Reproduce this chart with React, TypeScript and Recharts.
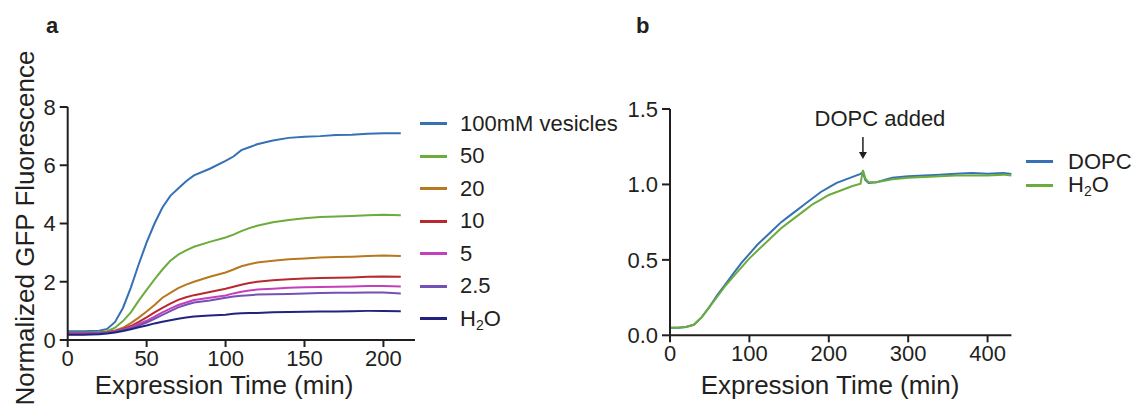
import React from "react";
import { LineChart, Line, XAxis, YAxis, Legend, ReferenceDot } from "recharts";

const FONT = '"Liberation Sans", Arial, sans-serif';
const INK = "#231f20";

// panel a: expression time course for each vesicle concentration
const timeA = [0, 10, 20, 25, 30, 35, 40, 45, 50, 55, 60, 65, 70, 75, 80, 90, 100, 105, 110, 115, 120, 130, 140, 150, 160, 170, 180, 190, 200, 211];
const ves100 = [0.3, 0.3, 0.32, 0.38, 0.62, 1.1, 1.8, 2.6, 3.35, 4.0, 4.55, 4.95, 5.2, 5.45, 5.65, 5.88, 6.15, 6.3, 6.52, 6.62, 6.72, 6.85, 6.94, 6.98, 7.0, 7.04, 7.05, 7.08, 7.1, 7.1];
const ves50 = [0.25, 0.25, 0.27, 0.3, 0.42, 0.65, 0.95, 1.35, 1.72, 2.08, 2.42, 2.72, 2.93, 3.08, 3.2, 3.37, 3.52, 3.62, 3.74, 3.84, 3.92, 4.04, 4.12, 4.18, 4.22, 4.24, 4.26, 4.28, 4.3, 4.28];
const ves20 = [0.22, 0.22, 0.25, 0.28, 0.33, 0.42, 0.58, 0.77, 0.98, 1.2, 1.45, 1.62, 1.78, 1.9, 2.0, 2.17, 2.32, 2.42, 2.53, 2.6, 2.66, 2.72, 2.77, 2.8, 2.83, 2.85, 2.86, 2.88, 2.9, 2.88];
const ves10 = [0.22, 0.22, 0.24, 0.26, 0.3, 0.38, 0.48, 0.62, 0.78, 0.95, 1.1, 1.25, 1.38, 1.47, 1.54, 1.65, 1.76, 1.83, 1.9, 1.96, 2.0, 2.05, 2.09, 2.11, 2.13, 2.14, 2.15, 2.17, 2.18, 2.17];
const ves5 = [0.22, 0.22, 0.24, 0.26, 0.3, 0.36, 0.44, 0.55, 0.66, 0.8, 0.95, 1.08, 1.2, 1.29, 1.37, 1.45, 1.53, 1.6, 1.66, 1.7, 1.73, 1.76, 1.79, 1.81, 1.82, 1.83, 1.84, 1.85, 1.85, 1.84];
const ves2_5 = [0.2, 0.2, 0.23, 0.25, 0.28, 0.34, 0.4, 0.5, 0.6, 0.73, 0.86, 0.99, 1.12, 1.21, 1.29, 1.36, 1.45, 1.49, 1.52, 1.54, 1.56, 1.57, 1.58, 1.6, 1.61, 1.62, 1.62, 1.63, 1.63, 1.6];
const waterA = [0.18, 0.18, 0.2, 0.22, 0.26, 0.31, 0.37, 0.44, 0.5, 0.57, 0.63, 0.68, 0.73, 0.77, 0.81, 0.84, 0.87, 0.9, 0.92, 0.93, 0.93, 0.95, 0.96, 0.97, 0.98, 0.98, 0.99, 1.0, 1.0, 0.99];

// panel b: DOPC added at ~243 min vs water control
const timeB = [0, 10, 20, 30, 40, 50, 60, 70, 80, 90, 100, 110, 120, 130, 140, 150, 160, 170, 180, 190, 200, 210, 220, 230, 240, 243, 246, 250, 260, 270, 280, 300, 320, 340, 360, 380, 400, 420, 430];
const dopc = [0.05, 0.05, 0.055, 0.07, 0.12, 0.19, 0.27, 0.34, 0.41, 0.48, 0.54, 0.6, 0.65, 0.7, 0.75, 0.79, 0.83, 0.87, 0.91, 0.95, 0.98, 1.01, 1.03, 1.05, 1.07, 1.08, 1.03, 1.01, 1.015, 1.03, 1.045, 1.055, 1.06, 1.065, 1.07, 1.075, 1.07, 1.075, 1.07];
const waterB = [0.05, 0.05, 0.055, 0.07, 0.12, 0.19, 0.26, 0.33, 0.39, 0.45, 0.51, 0.56, 0.61, 0.66, 0.71, 0.75, 0.79, 0.83, 0.87, 0.9, 0.93, 0.95, 0.97, 0.99, 1.005, 1.095, 1.04, 1.015, 1.015, 1.025, 1.035, 1.045, 1.05, 1.055, 1.06, 1.06, 1.06, 1.065, 1.06];

const ticksAx = [0, 50, 100, 150, 200];
const ticksAy = [0, 2, 4, 6, 8];
const ticksBx = [0, 100, 200, 300, 400];
const ticksBy = [0, 0.5, 1, 1.5];
const additionTime = 243;

const seriesA = [
  { key: "v100", label: "100mM vesicles", color: "#3670b5", values: ves100 },
  { key: "v50", label: "50", color: "#6cac3c", values: ves50 },
  { key: "v20", label: "20", color: "#b8781e", values: ves20 },
  { key: "v10", label: "10", color: "#b8292e", values: ves10 },
  { key: "v5", label: "5", color: "#c53fbb", values: ves5 },
  { key: "v2_5", label: "2.5", color: "#7551b5", values: ves2_5 },
  { key: "h2o", label: "H2O", color: "#22237f", values: waterA },
];

const seriesB = [
  { key: "dopc", label: "DOPC", color: "#3670b5", values: dopc },
  { key: "h2o", label: "H2O", color: "#6cac3c", values: waterB },
];

const toRows = (times: number[], series: { key: string; values: number[] }[]) =>
  times.map((t, i) => {
    const row: Record<string, number> = { t };
    series.forEach((s) => (row[s.key] = s.values[i]));
    return row;
  });

const dataA = toRows(timeA, seriesA);
const dataB = toRows(timeB, seriesB);

const tickStyle = { fontSize: 22, fill: INK, fontFamily: FONT };
const axisStroke = { stroke: INK, strokeWidth: 2 };

function LegendLabel({ text }: { text: string }) {
  if (text === "H2O")
    return (
      <span style={{ lineHeight: "20px" }}>
        H<sub style={{ fontSize: 14, lineHeight: 0, verticalAlign: "-4px" }}>2</sub>O
      </span>
    );
  return <span style={{ lineHeight: "20px" }}>{text}</span>;
}

function LegendList({
  items,
  rowHeight,
  gap,
}: {
  items: { key: string; label: string; color: string }[];
  rowHeight: number;
  gap: number;
}) {
  return (
    <div style={{ fontFamily: FONT, fontSize: 22, color: INK, whiteSpace: "nowrap" }}>
      {items.map((s) => (
        <div key={s.key} style={{ height: rowHeight, display: "flex", alignItems: "center" }}>
          <div style={{ width: 27, height: 3, background: s.color, marginRight: gap }} />
          <LegendLabel text={s.label} />
        </div>
      ))}
    </div>
  );
}

function AddedMarker(props: any) {
  const { cx, cy } = props;
  return (
    <g>
      <text x={cx + 17} y={cy - 44} textAnchor="middle" fontSize={22} fontFamily={FONT} fill={INK}>
        DOPC added
      </text>
      <line x1={cx} y1={cy - 33} x2={cx} y2={cy - 16} stroke={INK} strokeWidth={1.5} />
      <path d={`M${cx - 4},${cy - 18} L${cx + 4},${cy - 18} L${cx},${cy - 11} Z`} fill={INK} />
    </g>
  );
}

export default function App() {
  return (
    <div style={{ position: "absolute", left: 0, top: 0, width: 1133, height: 409, background: "#fff" }}>
      <div style={{ position: "absolute", left: 0, top: 0 }}>
        <LineChart width={640} height={409} data={dataA} margin={{ top: 107, right: 225, bottom: 0, left: 17.7 }}>
          <XAxis
            dataKey="t"
            type="number"
            domain={[0, 220]}
            ticks={ticksAx}
            height={69}
            tick={tickStyle}
            axisLine={axisStroke}
            tickLine={axisStroke}
            tickSize={7}
            tickMargin={3}
          />
          <YAxis
            type="number"
            domain={[0, 8]}
            ticks={ticksAy}
            width={50}
            tick={tickStyle}
            axisLine={axisStroke}
            tickLine={axisStroke}
            tickSize={8}
            tickMargin={4}
          />
          <Legend
            layout="horizontal"
            align="center"
            verticalAlign="middle"
            wrapperStyle={{ left: 420, top: 107.5, width: 220, height: 230 }}
            content={() => <LegendList items={seriesA} rowHeight={32.5} gap={13} />}
          />
          {seriesA.map((s) => (
            <Line
              key={s.key}
              dataKey={s.key}
              name={s.label}
              stroke={s.color}
              strokeWidth={2}
              dot={false}
              type="linear"
              isAnimationActive={false}
            />
          ))}
        </LineChart>
      </div>

      <div style={{ position: "absolute", left: 600, top: 0 }}>
        <LineChart width={533} height={409} data={dataB} margin={{ top: 109, right: 121.6, bottom: 0, left: 20 }}>
          <XAxis
            dataKey="t"
            type="number"
            domain={[0, 430]}
            ticks={ticksBx}
            height={73.7}
            tick={tickStyle}
            axisLine={axisStroke}
            tickLine={axisStroke}
            tickSize={7}
            tickMargin={3}
          />
          <YAxis
            type="number"
            domain={[0, 1.5]}
            ticks={ticksBy}
            width={50}
            tick={tickStyle}
            tickFormatter={(v: number) => v.toFixed(1)}
            axisLine={axisStroke}
            tickLine={axisStroke}
            tickSize={8}
            tickMargin={4}
          />
          <Legend
            layout="horizontal"
            align="center"
            verticalAlign="middle"
            wrapperStyle={{ left: 426, top: 149.75, width: 110, height: 50 }}
            content={() => <LegendList items={seriesB} rowHeight={23.5} gap={15} />}
          />
          {seriesB.map((s) => (
            <Line
              key={s.key}
              dataKey={s.key}
              name={s.label}
              stroke={s.color}
              strokeWidth={2}
              dot={false}
              type="linear"
              isAnimationActive={false}
            />
          ))}
          <ReferenceDot x={additionTime} y={1.096} r={0} shape={AddedMarker} />
        </LineChart>
      </div>

      <svg width={1133} height={409} style={{ position: "absolute", left: 0, top: 0, pointerEvents: "none" }}>
        <g fontFamily={FONT} fill={INK}>
          <text x={46} y={33.3} fontSize={22} fontWeight="bold">a</text>
          <text x={636} y={33.3} fontSize={22} fontWeight="bold">b</text>
          <text transform="translate(33.5,228) rotate(-90)" textAnchor="middle" fontSize={26}>
            Normalized GFP Fluorescence
          </text>
          <text x={224} y={393.6} textAnchor="middle" fontSize={26}>Expression Time (min)</text>
          <text x={830} y={393.6} textAnchor="middle" fontSize={26}>Expression Time (min)</text>
        </g>
      </svg>
    </div>
  );
}
